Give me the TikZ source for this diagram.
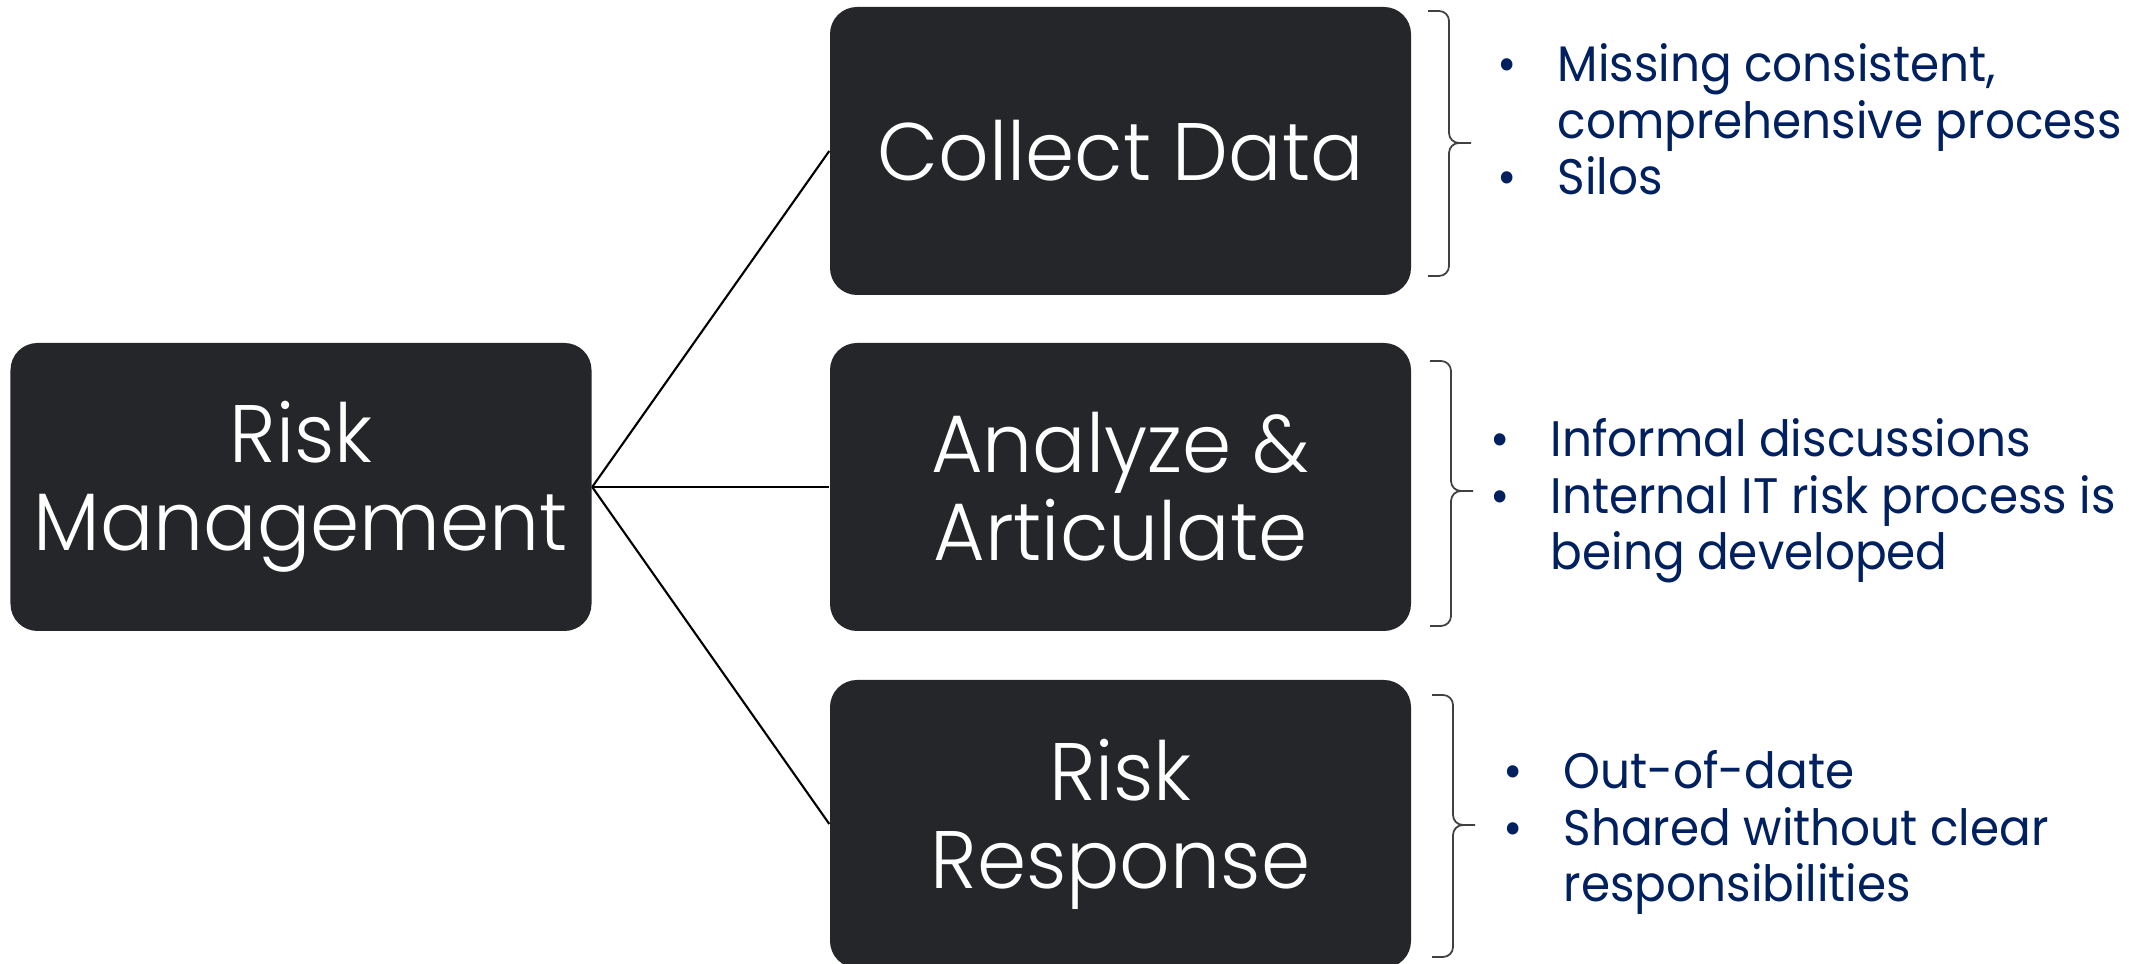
\documentclass[tikz,border=0pt]{standalone}
\usepackage{fontspec}
\setmainfont{Poppins}[FakeStretch=0.94]
\newfontfamily\lightfont{Poppins Light}[FakeStretch=0.97]
\definecolor{boxgray}{RGB}{37,38,42}
\definecolor{navy}{RGB}{0,32,96}
\newcommand{\bul}{\makebox[0.6cm][l]{\textbullet}}
\newcommand{\ind}{\hspace*{0.6cm}}

\begin{document}
\begin{tikzpicture}[
    box/.style={rectangle, rounded corners=0.27cm, fill=boxgray, text=white, minimum width=5.81cm, minimum height=2.88cm, align=center, font=\lightfont\fontsize{23.2}{25}\selectfont},
    link/.style={line width=0.6pt},
    bracket/.style={draw=black!75, line width=0.5pt, rounded corners=0.1cm},
    notes/.style={anchor=base west, align=left, text=navy, inner sep=0pt, font=\fontsize{14.2}{16.2}\selectfont}
  ]
  \useasboundingbox (0,0) rectangle (21.29,9.64);

  % Main box
  \node[box] (risk) at (3.01,4.77) {Risk\\Management};

  % Step boxes
  \node[box] (collect) at (11.205,8.13) {Collect Data};
  \node[box] (analyze) at (11.205,4.77) {Analyze \&\\Articulate};
  \node[box] (response) at (11.205,1.40) {Risk\\Response};

  % Links
  \draw[link] (risk.east) -- (collect.west);
  \draw[link] (risk.east) -- (analyze.west);
  \draw[link] (risk.east) -- (response.west);

  % Braces
  \draw[bracket] (14.28,9.53) -- (14.49,9.53) -- (14.49,8.21) -- (14.71,8.21)
                 (14.71,8.21) -- (14.49,8.21) -- (14.49,6.88) -- (14.28,6.88);
  \draw[bracket] (14.30,6.03) -- (14.51,6.03) -- (14.51,4.73) -- (14.73,4.73)
                 (14.73,4.73) -- (14.51,4.73) -- (14.51,3.38) -- (14.30,3.38);
  \draw[bracket] (14.32,2.69) -- (14.53,2.69) -- (14.53,1.39) -- (14.75,1.39)
                 (14.75,1.39) -- (14.53,1.39) -- (14.53,0.07) -- (14.32,0.07);

  % Notes
  \node[notes] (collectnotes) at (14.97,7.69) {\bul Missing consistent,\\\ind comprehensive process\\\bul Silos};
  \node[notes] (analyzenotes) at (14.90,3.94) {\bul Informal discussions\\\bul Internal IT risk process is\\\ind being developed};
  \node[notes] (responsenotes) at (15.03,0.62) {\bul Out-of-date\\\bul Shared without clear\\\ind responsibilities};
\end{tikzpicture}
\end{document}
